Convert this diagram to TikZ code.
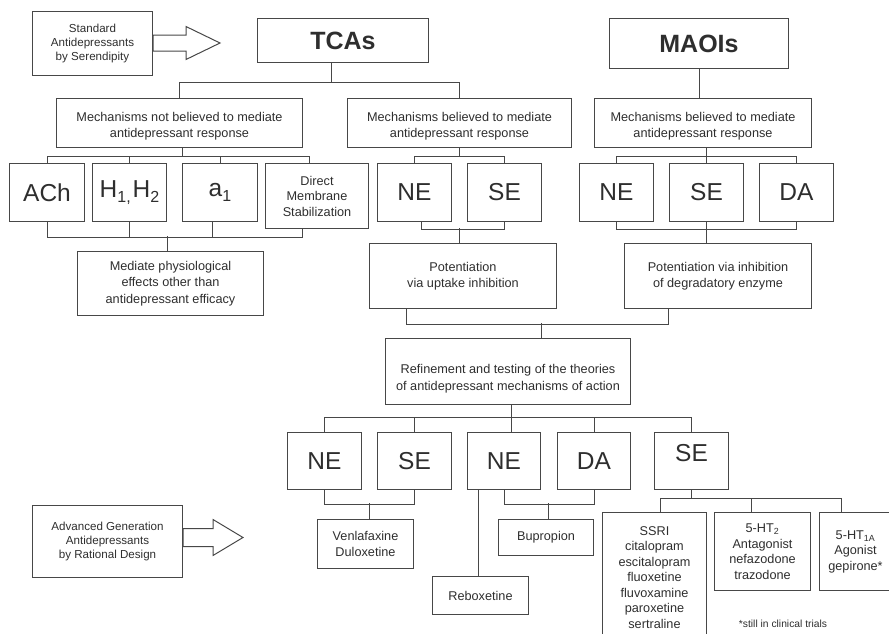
\documentclass[tikz,border=0pt]{standalone}
\usepackage{fontspec}
\setmainfont{Liberation Sans}
% dropped subscript for the large receptor labels
\newcommand\lowsub[1]{\raisebox{-5.5pt}{\fontsize{16}{16}\selectfont #1}}
% centred block of lines, shifted vertically without changing its size
\newcommand\shiftedlines[2]{\raisebox{#1}[\height][\depth]{\begin{tabular}{@{}c@{}}#2\end{tabular}}}
\begin{document}
\begin{tikzpicture}[x=1pt,y=-1pt,
  every node/.style={text=black!82},
  box/.style={draw=black!72, line width=1pt, inner sep=0pt, align=center, anchor=north west},
  small/.style={font=\fontsize{12.7}{15.5}\selectfont},
  mech/.style={font=\fontsize{12.7}{16.5}\selectfont},
  smaller/.style={font=\fontsize{11.6}{14}\selectfont},
  big/.style={font=\fontsize{24.5}{28}\selectfont},
  heading/.style={font=\fontsize{25}{30}\selectfont\bfseries},
  link/.style={draw=black!72, line width=1pt},
  fatarrow/.style={draw=black!72, line width=1pt, line join=miter, fill=white},
]
\useasboundingbox (0,0) rectangle (889,633);
\clip (0,0) rectangle (889,633);

% ---- first generation ----
\node[box, smaller, minimum width=120, minimum height=64] (std) at (32,11) {Standard\\Antidepressants\\by Serendipity};
\node[box, heading, minimum width=171, minimum height=44] (tcas) at (257,18) {TCAs};
\node[box, heading, minimum width=179, minimum height=50] (maois) at (609,18) {MAOIs};

\node[box, mech, minimum width=246, minimum height=49] (mnot) at (56,98) {\shiftedlines{-3pt}{Mechanisms not believed to mediate\\antidepressant response}};
\node[box, mech, minimum width=224, minimum height=49] (mtca) at (347,98) {\shiftedlines{-3pt}{Mechanisms believed to mediate\\antidepressant response}};
\node[box, mech, minimum width=217, minimum height=49] (mmao) at (594,98) {\shiftedlines{-3pt}{Mechanisms believed to mediate\\antidepressant response}};

\node[box, big, minimum width=75, minimum height=58] (ach) at (9,163) {ACh};
\node[box, big, minimum width=74, minimum height=58] (hh) at (92,163) {H\lowsub{1,}\hspace{2pt}H\lowsub{2}};
\node[box, big, minimum width=75, minimum height=58] (a1) at (182,163) {a\lowsub{1}};
\node[box, small, minimum width=103, minimum height=65] (dms) at (265,163) {Direct\\Membrane\\Stabilization};
\node[box, big, minimum width=74, minimum height=58] (ne1) at (377,163) {NE};
\node[box, big, minimum width=74, minimum height=58] (se1) at (467,163) {SE};
\node[box, big, minimum width=74, minimum height=58] (ne2) at (579,163) {NE};
\node[box, big, minimum width=74, minimum height=58] (se2) at (669,163) {SE};
\node[box, big, minimum width=74, minimum height=58] (da2) at (759,163) {DA};

\node[box, mech, minimum width=186, minimum height=64] (med) at (77,251) {Mediate physiological\\effects other than\\antidepressant efficacy};
\node[box, mech, minimum width=187, minimum height=65] (potu) at (369,243) {Potentiation\\via uptake inhibition};
\node[box, mech, minimum width=187, minimum height=65] (poti) at (624,243) {Potentiation via inhibition\\of degradatory enzyme};

\node[box, mech, minimum width=245, minimum height=66] (ref) at (385,338)
  {\shiftedlines{-7pt}{Refinement and testing of the theories\\of antidepressant mechanisms of action}};

% ---- rational design ----
\node[box, big, minimum width=74, minimum height=57] (ne3) at (287,432) {NE};
\node[box, big, minimum width=74, minimum height=57] (se3) at (377,432) {SE};
\node[box, big, minimum width=73, minimum height=57] (ne4) at (467,432) {NE};
\node[box, big, minimum width=73, minimum height=57] (da4) at (557,432) {DA};
\node[box, big, minimum width=74, minimum height=57] (se4) at (654,432) {\raisebox{8pt}[\height][\depth]{SE}};

\node[box, small, minimum width=96, minimum height=49] (ven) at (317,519) {Venlafaxine\\Duloxetine};
\node[box, small, minimum width=96, minimum height=38] (rebox) at (432,576) {Reboxetine};
\node[box, small, minimum width=95, minimum height=36] (bup) at (498,519) {Bupropion};
\node[box, small, minimum width=104, minimum height=130] (ssri) at (602,512) {SSRI\\citalopram\\escitalopram\\fluoxetine\\fluvoxamine\\paroxetine\\sertraline};
\node[box, small, minimum width=96, minimum height=78] (ht2) at (714,512) {5-HT\textsubscript{2}\\Antagonist\\nefazodone\\trazodone};
\node[box, small, minimum width=72, minimum height=78] (ht1a) at (819,512) {5-HT\textsubscript{1A}\\Agonist\\gepirone*};
\node[font=\fontsize{10.3}{12}\selectfont] (note) at (783,624) {*still in clinical trials};

\node[box, smaller, minimum width=150, minimum height=72] (adv) at (32,505) {Advanced Generation\\Antidepressants\\by Rational Design};

% ---- block arrows ----
\draw[fatarrow] (std.east) ++(0,-8.5) -- ++(33,0) -- ++(0,-8.5) -- ++(34,16.5) -- ++(-34,16.5) -- ++(0,-8.5) -- ++(-33,0) -- cycle;
\draw[fatarrow] (adv.east) ++(0,-13) -- ++(30,0) -- ++(0,-9) -- ++(30,18) -- ++(-30,18) -- ++(0,-9) -- ++(-30,0) -- cycle;

% ---- connectors ----
\draw[link] ([xshift=-11.5]tcas.south) -- ++(0,20);
\draw[link] (mnot.north) -- ++(0,-16) -| (mtca.north);
\draw[link] (maois.south) -- (maois.south |- mmao.north);

\draw[link] ([xshift=3]mnot.south) -- ++(0,9);
\draw[link] (ach.north) -- ++(0,-7) -| ([xshift=-7.5]dms.north);
\draw[link] (hh.north) -- ++(0,-7);
\draw[link] (a1.north) -- ++(0,-7);
\draw[link] (ach.south) -- ++(0,15) -| ([xshift=-14.5]dms.south);
\draw[link] (hh.south) -- ++(0,15);
\draw[link] ([xshift=-7.5]a1.south) -- ++(0,15);
\draw[link] ([xshift=-3]med.north) -- ++(0,-15);

\draw[link] (mtca.south) -- ++(0,9);
\draw[link] (ne1.north) -- ++(0,-7) -| (se1.north);
\draw[link] ([xshift=7]ne1.south) -- ++(0,7) -| (se1.south);
\draw[link] ([xshift=-3.5]potu.north) -- ++(0,-15);

\draw[link] (se2.north) -- (se2.north |- mmao.south);
\draw[link] (ne2.north) -- ++(0,-7) -| (da2.north);
\draw[link] (ne2.south) -- ++(0,7) -| (da2.south);
\draw[link] (se2.south) -- (se2.south |- poti.north);

\draw[link] ([xshift=-56.5]potu.south) -- ++(0,15) -| ([xshift=-49.5]poti.south);
\draw[link] ([xshift=33.5]ref.north) -- ++(0,-15);

\coordinate (refout) at ([xshift=3.5]ref.south);
\draw[link] (refout) -- (refout |- ne4.north);
\draw[link] (ne3.north) -- ++(0,-15) -| (se4.north);
\draw[link] (se3.north) -- ++(0,-15);
\draw[link] (da4.north) -- ++(0,-15);

\draw[link] (ne3.south) -- ++(0,14) -| (se3.south);
\draw[link] ([xshift=4]ven.north) -- ++(0,-16);
\coordinate (rbin) at ([xshift=-2]rebox.north);
\draw[link] (rbin) -- (rbin |- ne4.south);
\draw[link] (ne4.south) -- ++(0,14) -| (da4.south);
\draw[link] ([xshift=2.5]bup.north) -- ++(0,-16);

\draw[link] (se4.south) -- ++(0,9);
\draw[link] ([xshift=6]ssri.north) -- ++(0,-14) -| ([xshift=-14]ht1a.north);
\draw[link] ([xshift=-11]ht2.north) -- ++(0,-14);
\end{tikzpicture}
\end{document}
